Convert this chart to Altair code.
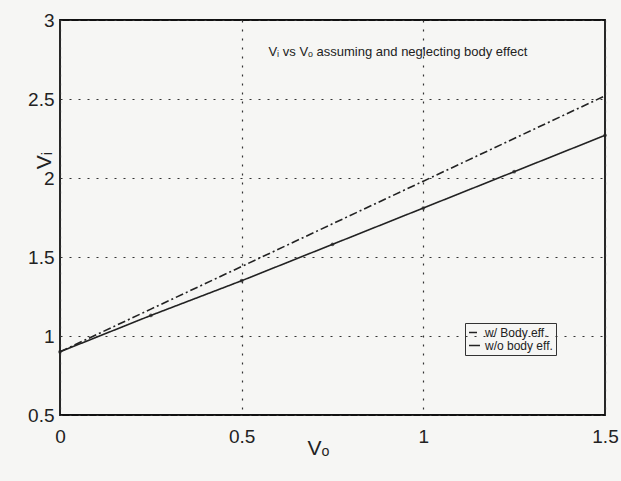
import altair as alt
import pandas as pd

vo = [0.0, 0.25, 0.5, 0.75, 1.0, 1.25, 1.5]
vi_body = [0.90, 1.17, 1.44, 1.71, 1.98, 2.25, 2.52]
vi_nobody = [0.90, 1.13, 1.35, 1.58, 1.81, 2.04, 2.27]
series = ["w/ Body eff.", "w/o body eff."]

rows = []
for s, vals in zip(series, [vi_body, vi_nobody]):
    for x, y in zip(vo, vals):
        rows.append({"Vo": x, "Vi": y, "series": s})
df = pd.DataFrame(rows)

font = "Liberation Sans"

xs = alt.Scale(domain=[0, 1.5], nice=False, zero=False)
ys = alt.Scale(domain=[0.5, 3], nice=False, zero=False)

lines = alt.Chart(df).mark_line(color="#222222", strokeWidth=1.6).encode(
    x=alt.X("Vo:Q", scale=xs,
            axis=alt.Axis(values=[0, 0.5, 1, 1.5], format="~g", title="Vₒ",
                          titleX=258, titleY=22, titleFontSize=21, titleFontWeight="normal",
                          labelFontSize=19, labelPadding=12, tickSize=0,
                          grid=True, gridDash=[2, 7], gridColor="#333333", gridWidth=1.2,
                          domain=False, labelFont=font, titleFont=font, labelColor="#222",
                          titleColor="#222", labelFlush=False)),
    y=alt.Y("Vi:Q", scale=ys,
            axis=alt.Axis(values=[0.5, 1, 1.5, 2, 2.5, 3], format="~g", title="Vᵢ",
                          titleX=-6, titleY=140, titleFontSize=21, titleFontWeight="normal",
                          labelFontSize=19, labelPadding=6, tickSize=0,
                          grid=True, gridDash=[2, 7], gridColor="#333333", gridWidth=1.2,
                          domain=False, labelFont=font, titleFont=font, labelColor="#222",
                          titleColor="#222")),
    strokeDash=alt.StrokeDash("series:N", scale=alt.Scale(domain=series, range=[[8, 3, 2, 3], [1, 0]]),
                              legend=alt.Legend(title=None, orient="none", legendX=405, legendY=303,
                                                symbolType="stroke", symbolStrokeColor="#222",
                                                symbolSize=120, labelFontSize=12, labelFont=font,
                                                labelColor="#222", padding=3, rowPadding=0,
                                                strokeColor="#333", symbolStrokeWidth=1.5)),
)

pts = alt.Chart(df[df["series"] == series[1]]).mark_point(filled=True, size=14, color="#222").encode(
    x=alt.X("Vo:Q", scale=xs), y=alt.Y("Vi:Q", scale=ys))

title_df = pd.DataFrame({"Vo": [0.93], "Vi": [2.80], "t": ["Vᵢ vs Vₒ assuming and neglecting body effect"]})
title = alt.Chart(title_df).mark_text(fontSize=13, font=font, color="#222").encode(
    x=alt.X("Vo:Q", scale=xs), y=alt.Y("Vi:Q", scale=ys), text="t:N")

chart = (lines + pts + title).properties(width=545, height=395).configure(
    autosize=alt.AutoSizeParams(type="none"),
    padding={"left": 60, "top": 20, "right": 16, "bottom": 66},
    background="#f6f6f4",
).configure_view(stroke="#111", strokeWidth=1.8)

chart.save("out.html", embed_options={"renderer": "svg", "actions": False})
